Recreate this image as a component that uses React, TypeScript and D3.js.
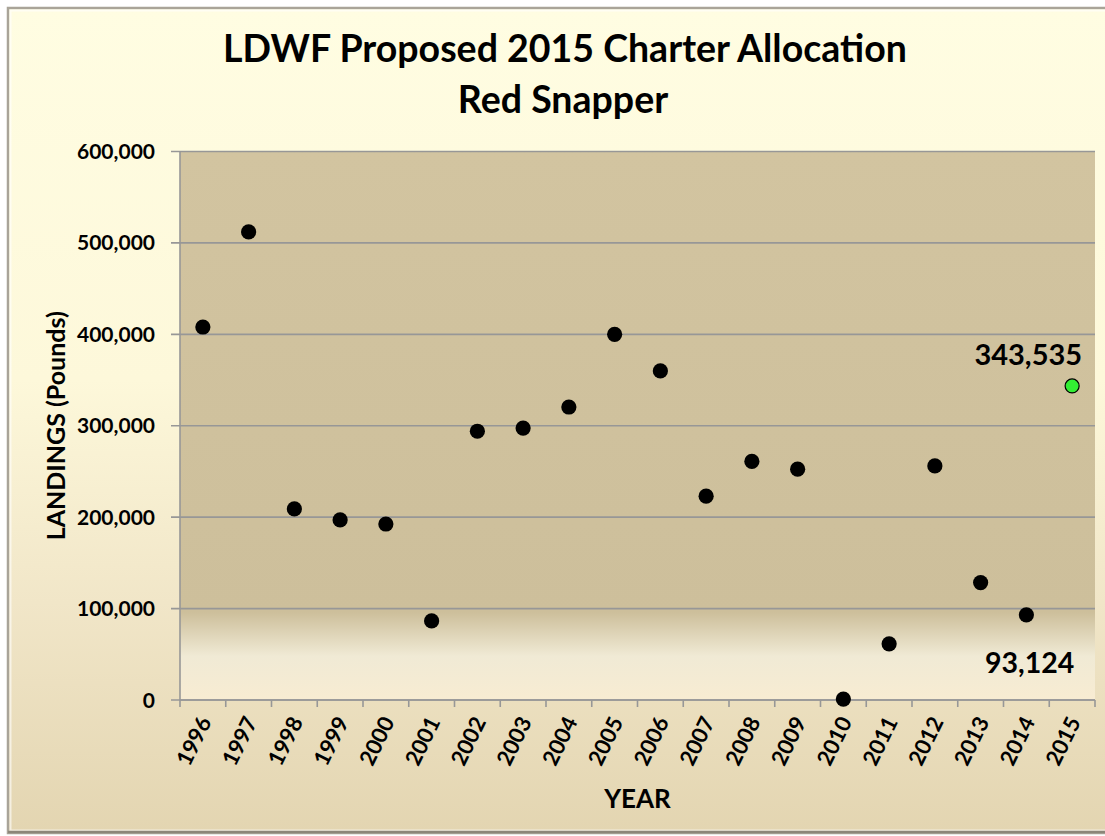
import React from 'react';
import * as d3 from 'd3';

// Red snapper charter landings
const years = ['1996', '1997', '1998', '1999', '2000', '2001', '2002', '2003', '2004', '2005',
  '2006', '2007', '2008', '2009', '2010', '2011', '2012', '2013', '2014', '2015'];
const landingYears = years.slice(0, 19);
const landings = [408000, 512000, 209000, 197000, 192500, 86500, 294000, 297500, 320500, 400000,
  360000, 223000, 261000, 252500, 1000, 61500, 256000, 128500, 93124];
const proposedYears = ['2015'];
const proposedValues = [343535];
const yTicks = [0, 100000, 200000, 300000, 400000, 500000, 600000];

const FONT = 'Lato, "Open Sans", sans-serif';

const App: React.FC = () => {
  const W = 1105;
  const H = 836;
  const margin = { top: 151.5, right: 10, bottom: 136, left: 180 };
  const plotW = W - margin.left - margin.right;
  const plotH = H - margin.top - margin.bottom;

  const x = d3.scaleBand<string>().domain(years).range([0, plotW]).padding(0);
  const y = d3.scaleLinear().domain([0, 600000]).range([plotH, 0]);
  const fmt = d3.format(',');
  const cx = (yr: string) => (x(yr) as number) + x.bandwidth() / 2;

  const last = landings.length - 1;
  const lastX = cx(landingYears[last]);
  const lastY = y(landings[last]);
  const propX = cx(proposedYears[0]);
  const propY = y(proposedValues[0]);

  return (
    <svg width={W} height={H} style={{ position: 'absolute', left: 0, top: 0 }}>
      <defs>
        <linearGradient id="outerBg" x1="0" y1="0" x2="0" y2="1">
          <stop offset="0" stopColor="#fffde2" />
          <stop offset="0.45" stopColor="#fdf8da" />
          <stop offset="0.72" stopColor="#f1e6c8" />
          <stop offset="1" stopColor="#e3d5b1" />
        </linearGradient>
        <linearGradient id="plotBg" x1="0" y1="0" x2="0" y2="1">
          <stop offset="0" stopColor="#d2c4a0" />
          <stop offset="0.84" stopColor="#cdbf9b" />
          <stop offset="0.92" stopColor="#f0ead5" />
          <stop offset="1" stopColor="#f8ecd2" />
        </linearGradient>
      </defs>

      {/* chart frame */}
      <rect x={8} y={8} width={1120} height={825} fill="url(#outerBg)" stroke="#a9a498" strokeWidth={2.5} />
      <rect x={10.5} y={10.5} width={1115} height={820} fill="none" stroke="#ffffff" strokeOpacity={0.6} strokeWidth={2} />
      <line x1={8} x2={1128} y1={832} y2={832} stroke="#8c8679" strokeWidth={2.5} />

      <text x={565} y={62} textAnchor="middle" fontFamily={FONT} fontWeight={700} fontSize={37.5} fill="#000">
        LDWF Proposed 2015 Charter Allocation
      </text>
      <text x={563} y={113} textAnchor="middle" fontFamily={FONT} fontWeight={700} fontSize={37.5} fill="#000">
        Red Snapper
      </text>

      <g transform={`translate(${margin.left},${margin.top})`}>
        <rect x={0} y={0} width={plotW} height={plotH} fill="url(#plotBg)" />

        {/* gridlines + y ticks */}
        {yTicks.map(t => (
          <g key={t} transform={`translate(0,${y(t)})`}>
            <line x1={-9} x2={plotW} stroke="#979797" strokeWidth={1.6} />
            <text x={-25} dy="0.36em" textAnchor="end" fontFamily={FONT} fontWeight={700} fontSize={21} fill="#000">
              {fmt(t)}
            </text>
          </g>
        ))}

        {/* axis lines */}
        <line x1={0} x2={0} y1={0} y2={plotH + 7} stroke="#979797" strokeWidth={1.6} />
        <line x1={0} x2={plotW} y1={plotH} y2={plotH} stroke="#979797" strokeWidth={1.6} />
        {years.map(yr => (
          <line key={'t' + yr} x1={(x(yr) as number) + x.bandwidth()} x2={(x(yr) as number) + x.bandwidth()}
            y1={plotH} y2={plotH + 7} stroke="#979797" strokeWidth={1.6} />
        ))}
        {years.map(yr => (
          <text key={'l' + yr} transform={`translate(${cx(yr) + 2},${plotH + 18}) rotate(-64)`}
            dy="0.36em" textAnchor="end" fontFamily={FONT} fontWeight={700} fontSize={22} fill="#000">
            {yr}
          </text>
        ))}

        {/* landings */}
        {landingYears.map((yr, i) => (
          <circle key={yr} cx={cx(yr)} cy={y(landings[i])} r={7.6} fill="#000" />
        ))}
        {proposedYears.map((yr, i) => (
          <circle key={'p' + yr} cx={cx(yr)} cy={y(proposedValues[i])} r={7} fill="#33ee33" stroke="#000" strokeWidth={1.2} />
        ))}

        {/* value labels */}
        <text x={propX + 10} y={propY - 21} textAnchor="end" fontFamily={FONT} fontWeight={700} fontSize={29} fill="#000">
          {fmt(proposedValues[0])}
        </text>
        <text x={lastX + 48} y={lastY + 58} textAnchor="end" fontFamily={FONT} fontWeight={700} fontSize={28.5} fill="#000">
          {fmt(landings[last])}
        </text>
      </g>

      <text transform={`translate(65,${margin.top + plotH / 2}) rotate(-90)`} textAnchor="middle"
        fontFamily={FONT} fontWeight={700} fontSize={25} fill="#000">
        LANDINGS (Pounds)
      </text>
      <text x={margin.left + plotW / 2} y={808} textAnchor="middle" fontFamily={FONT} fontWeight={700} fontSize={26} fill="#000">
        YEAR
      </text>
    </svg>
  );
};

export default App;
